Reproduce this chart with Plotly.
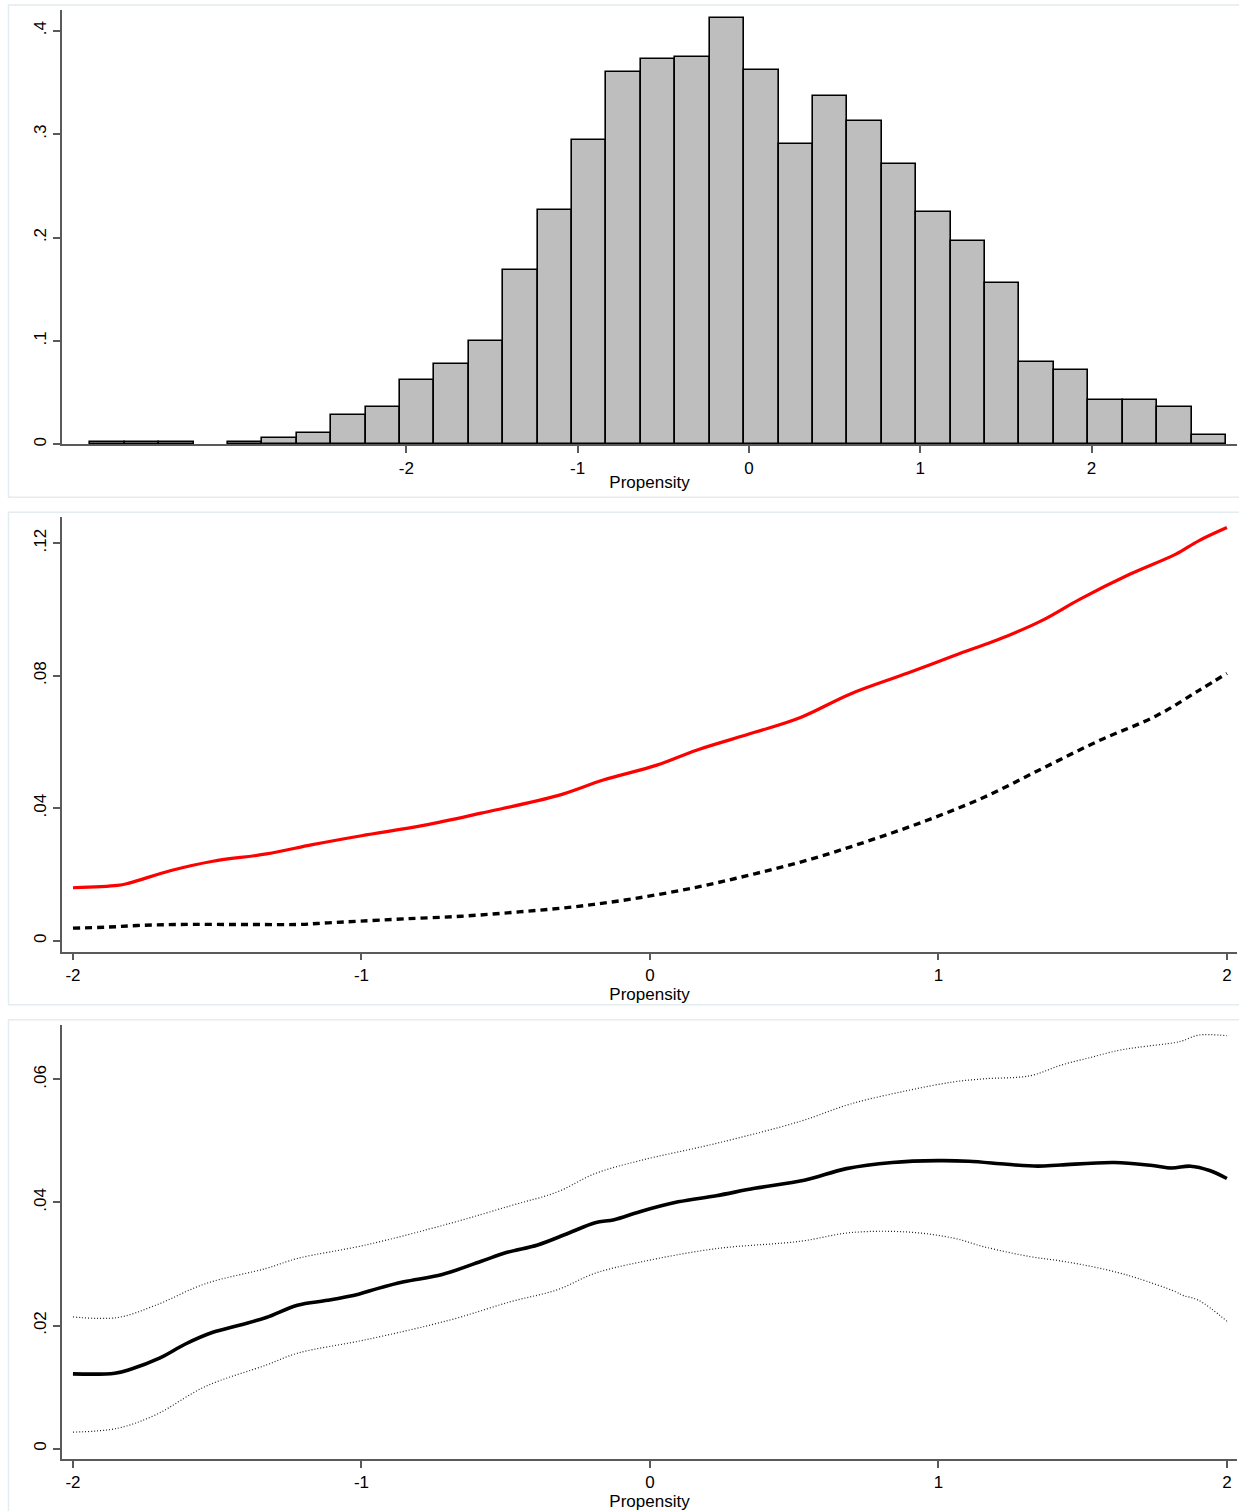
import plotly.graph_objects as go

# ---------------- data ----------------
# Panel 1: histogram of propensity (bin centres, bin width, densities)
hist_centers = [-3.7446, -3.5437, -3.3428, -2.9410, -2.7401, -2.5392, -2.3383, -2.1374,
                -1.9365, -1.7356, -1.5347, -1.3338, -1.1329, -0.9320, -0.7311, -0.5302,
                -0.3293, -0.1284, 0.0725, 0.2734, 0.4743, 0.6752, 0.8761, 1.0770,
                1.2779, 1.4788, 1.6797, 1.8806, 2.0815, 2.2824, 2.4833, 2.6842]
hist_density = [0.002, 0.002, 0.002, 0.002, 0.006, 0.011, 0.028, 0.036,
                0.062, 0.078, 0.100, 0.169, 0.227, 0.294, 0.360, 0.373,
                0.375, 0.412, 0.362, 0.290, 0.337, 0.313, 0.271, 0.225,
                0.197, 0.156, 0.080, 0.072, 0.0425, 0.0425, 0.036, 0.0087]
hist_bin_width = 0.2009

# Panel 2: red solid curve and black dashed curve
red_x = [-2.0, -1.846, -1.806, -1.66, -1.515, -1.329, -1.17, -1.0, -0.785, -0.586,
         -0.32, -0.162, 0.024, 0.164, 0.363, 0.522, 0.695, 0.894, 1.053, 1.239,
         1.358, 1.491, 1.663, 1.823, 1.902, 2.0]
red_y = [0.0160, 0.0167, 0.0174, 0.0212, 0.0240, 0.0262, 0.0290, 0.0317, 0.0348, 0.0385,
         0.0438, 0.0485, 0.0530, 0.0576, 0.0629, 0.0674, 0.0745, 0.0808, 0.0860, 0.0920,
         0.0966, 0.1031, 0.1106, 0.1167, 0.1207, 0.1247]
dash_x = [-2.0, -1.882, -1.777, -1.645, -1.38, -1.22, -1.117, -1.01, -0.853, -0.654,
          -0.455, -0.256, -0.057, 0.164, 0.363, 0.561, 0.76, 0.959, 1.158, 1.358,
          1.557, 1.756, 1.902, 2.0]
dash_y = [0.0038, 0.0041, 0.0046, 0.0049, 0.0049, 0.0049, 0.0054, 0.0059, 0.0066, 0.0074,
          0.0087, 0.0103, 0.0127, 0.0162, 0.0202, 0.0247, 0.0302, 0.0363, 0.0433, 0.0519,
          0.0604, 0.0679, 0.0755, 0.0807]

# Panel 3: estimate with upper / lower bands
est_x = [-2.0, -1.855, -1.80, -1.70, -1.61, -1.515, -1.42, -1.33, -1.222, -1.117,
         -1.01, -0.945, -0.853, -0.72, -0.587, -0.495, -0.389, -0.283, -0.19, -0.124,
         -0.035, 0.098, 0.23, 0.363, 0.535, 0.681, 0.84, 0.999, 1.105, 1.238,
         1.344, 1.424, 1.61, 1.742, 1.808, 1.874, 1.94, 2.0]
est_y = [0.01214, 0.01225, 0.0129, 0.0147, 0.0170, 0.0189, 0.0201, 0.0213, 0.0233, 0.0241,
         0.0251, 0.0260, 0.0271, 0.0283, 0.0304, 0.0319, 0.0331, 0.0350, 0.0367, 0.0372,
         0.0385, 0.0401, 0.0411, 0.0423, 0.0436, 0.0455, 0.0465, 0.0468, 0.0467, 0.0462,
         0.0459, 0.0461, 0.0465, 0.0460, 0.0456, 0.0459, 0.0452, 0.0439]
band_x = [-2.0, -1.846, -1.713, -1.541, -1.329, -1.222, -0.984, -0.693, -0.481, -0.322,
          -0.19, -0.035, 0.23, 0.522, 0.695, 0.894, 1.053, 1.158, 1.318, 1.424,
          1.53, 1.623, 1.689, 1.822, 1.848, 1.902, 2.0]
upper_y = [0.0214, 0.0213, 0.0233, 0.0268, 0.0293, 0.0309, 0.0331, 0.0366, 0.0395, 0.0417,
           0.0447, 0.0468, 0.0496, 0.0532, 0.0560, 0.0582, 0.0596, 0.0601, 0.0606, 0.0623,
           0.0636, 0.0647, 0.0652, 0.0660, 0.0663, 0.0672, 0.0671]
lower_y = [0.00268, 0.0033, 0.0055, 0.0101, 0.0136, 0.0155, 0.0177, 0.0209, 0.0239, 0.0258,
           0.0285, 0.0303, 0.0325, 0.0337, 0.0351, 0.0352, 0.0342, 0.0328, 0.0312, 0.0305,
           0.0296, 0.0286, 0.0277, 0.0255, 0.0249, 0.0241, 0.0207]

x_ticks_hist = [-2, -1, 0, 1, 2]
x_ticks_curve = [-2, -1, 0, 1, 2]
y_ticks_1 = [0, 0.1, 0.2, 0.3, 0.4]
y_text_1 = ["0", ".1", ".2", ".3", ".4"]
y_ticks_2 = [0, 0.04, 0.08, 0.12]
y_text_2 = ["0", ".04", ".08", ".12"]
y_ticks_3 = [0, 0.02, 0.04, 0.06]
y_text_3 = ["0", ".02", ".04", ".06"]
x_title = "Propensity"

# ---------------- figure ----------------
W, H = 1239, 1511
FONT = "Liberation Sans, Arial, sans-serif"
AX = "#5a5a5a"

def px_x(p):
    return p / W

def px_y(p):
    return 1 - p / H

fig = go.Figure()

fig.add_trace(go.Bar(
    x=hist_centers, y=hist_density, width=hist_bin_width,
    marker=dict(color="#bebebe", line=dict(color="black", width=1.6)),
    xaxis="x", yaxis="y", showlegend=False))

fig.add_trace(go.Scatter(x=red_x, y=red_y, mode="lines", line=dict(color="red", width=3.2, shape="spline"),
                         xaxis="x2", yaxis="y2", showlegend=False))
fig.add_trace(go.Scatter(x=dash_x, y=dash_y, mode="lines",
                         line=dict(color="black", width=3.4, dash="7px,5px", shape="spline"),
                         xaxis="x2", yaxis="y2", showlegend=False))

fig.add_trace(go.Scatter(x=band_x, y=upper_y, mode="lines",
                         line=dict(color="#222222", width=1.2, dash="1px,2px", shape="spline"),
                         xaxis="x3", yaxis="y3", showlegend=False))
fig.add_trace(go.Scatter(x=band_x, y=lower_y, mode="lines",
                         line=dict(color="#222222", width=1.2, dash="1px,2px", shape="spline"),
                         xaxis="x3", yaxis="y3", showlegend=False))
fig.add_trace(go.Scatter(x=est_x, y=est_y, mode="lines",
                         line=dict(color="black", width=3.6, shape="spline"),
                         xaxis="x3", yaxis="y3", showlegend=False))

xdom = [px_x(62), px_x(1237)]
panels = [  # (top px, bottom px)
    (10, 445),
    (518, 953),
    (1026, 1461),
]

def xaxis(anchor, rng, ticks):
    return dict(domain=xdom, anchor=anchor, range=rng, tickvals=ticks,
                ticktext=[str(t) if t >= 0 else "-" + str(-t) for t in ticks],
                showline=True, linecolor=AX, linewidth=1.5, ticks="outside",
                ticklen=7, tickwidth=1.5, tickcolor=AX, showgrid=False, zeroline=False,
                tickfont=dict(family=FONT, size=17, color="black"),
                title=dict(text=x_title, standoff=0, font=dict(family=FONT, size=17, color="black")))

def yaxis(anchor, top, bottom, rng, ticks, text):
    return dict(domain=[px_y(bottom), px_y(top)], anchor=anchor, range=rng,
                tickvals=ticks, ticktext=text, tickangle=-90,
                showline=True, linecolor=AX, linewidth=1.5, ticks="outside",
                ticklen=7, tickwidth=1.5, tickcolor=AX, showgrid=False, zeroline=False,
                tickfont=dict(family=FONT, size=17, color="black"))

fig.update_layout(
    width=W, height=H,
    margin=dict(l=0, r=0, t=0, b=0),
    paper_bgcolor="white", plot_bgcolor="white",
    bargap=0,
    xaxis=xaxis("y", [-4.01, 2.849], x_ticks_hist),
    yaxis=yaxis("x", panels[0][0], panels[0][1], [0, 0.420], y_ticks_1, y_text_1),
    xaxis2=xaxis("y2", [-2.038, 2.035], x_ticks_curve),
    yaxis2=yaxis("x2", panels[1][0], panels[1][1], [-0.00332, 0.1278], y_ticks_2, y_text_2),
    xaxis3=xaxis("y3", [-2.038, 2.035], x_ticks_curve),
    yaxis3=yaxis("x3", panels[2][0], panels[2][1], [-0.0017, 0.0689], y_ticks_3, y_text_3),
)

# light outer boxes around each panel
for top, bottom in [(5, 498), (513, 1006), (1021, 1515)]:
    fig.add_shape(type="rect", xref="paper", yref="paper",
                  x0=px_x(8.5), x1=px_x(1245), y0=px_y(bottom), y1=px_y(top),
                  line=dict(color="#e3ecee", width=1.5), fillcolor="rgba(0,0,0,0)", layer="below")

fig.write_html("out.html", config={"displayModeBar": False})

# remove the browser's default body margin so the figure sits at the page origin
with open("out.html", "r", encoding="utf-8") as f:
    html = f.read()
html = html.replace("<body>", '<body style="margin:0;padding:0;overflow:hidden">', 1)
html = html.replace("<head>", "<head><style>html,body{margin:0;padding:0;}</style>", 1)
with open("out.html", "w", encoding="utf-8") as f:
    f.write(html)
